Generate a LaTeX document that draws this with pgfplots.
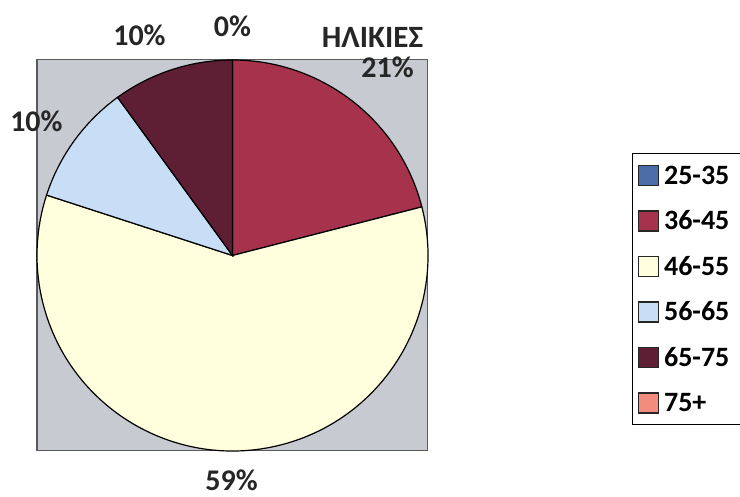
\documentclass[border=0pt]{standalone}
\usepackage{fontspec}
\setmainfont{Carlito}
\usepackage{pgfplots}
\pgfplotsset{compat=1.18}
\definecolor{c1}{RGB}{74,108,168}
\definecolor{c2}{RGB}{166,50,76}
\definecolor{c3}{RGB}{255,255,222}
\definecolor{c4}{RGB}{200,222,246}
\definecolor{c5}{RGB}{94,30,52}
\definecolor{c6}{RGB}{242,140,124}
\definecolor{plotgray}{RGB}{200,202,210}
\newcommand\pctfont{\fontsize{30}{36}\selectfont\bfseries}
\begin{document}
\begin{tikzpicture}
\useasboundingbox (0,0) rectangle (740pt,497pt);
\begin{axis}[
  at={(37pt,46pt)}, anchor=south west,
  scale only axis, width=391pt, height=391pt,
  xmin=-1, xmax=1, ymin=-1, ymax=1,
  xtick=\empty, ytick=\empty,
  clip=false,
  axis background/.style={fill=plotgray},
  axis line style={draw=black!65, line width=1pt},
  legend image code/.code={\draw[#1] (0pt,-10pt) rectangle (20pt,10pt);},
  legend cell align=left,
  legend style={at={(1.5217,0.762)}, anchor=north west, draw=black, line width=1.2pt,
    font=\fontsize{28}{33}\selectfont\bfseries, row sep=21pt, column sep=3pt,
    inner xsep=5pt, inner ysep=10pt},
]
% value / colour / show label / label x / label y (axis units)
\xdef\s{90}
\foreach \v/\c/\show/\lx/\ly in {0/c1/1/0/1.174, 21/c2/1/0.793/0.965, 59/c3/1/-0.005/-1.148,
    10/c4/1/-1.003/0.688, 10/c5/1/-0.476/1.128, 0/c6/0/0/0}{
  \pgfmathsetmacro\e{\s-3.6*\v}
  \edef\tmp{\noexpand\filldraw[fill=\c, draw=black, line width=1.2pt] (axis cs:0,0) -- (axis cs:{cos(\s)},{sin(\s)}) arc[start angle=\s, end angle=\e, radius=195.5pt] -- cycle;}
  \tmp
  \ifnum\show=1
    \edef\tmp{\noexpand\node[font=\noexpand\pctfont, text=black!85, inner sep=1pt] at (axis cs:\lx,\ly) {\v\noexpand\%};}
    \tmp
  \fi
  \xdef\s{\e}
}
\node[font=\fontsize{31}{36}\selectfont\bfseries, text=black!85, inner sep=1pt] at (rel axis cs:0.858,1.058) {ΗΛΙΚΙΕΣ};
\addlegendimage{fill=c1, draw=black!85, line width=1.5pt}
\addlegendimage{fill=c2, draw=black!85, line width=1.5pt}
\addlegendimage{fill=c3, draw=black!85, line width=1.5pt}
\addlegendimage{fill=c4, draw=black!85, line width=1.5pt}
\addlegendimage{fill=c5, draw=black!85, line width=1.5pt}
\addlegendimage{fill=c6, draw=black!85, line width=1.5pt}
\legend{25-35\rule{20pt}{0pt},36-45,46-55,56-65,65-75,75+}
\end{axis}
\end{tikzpicture}
\end{document}
